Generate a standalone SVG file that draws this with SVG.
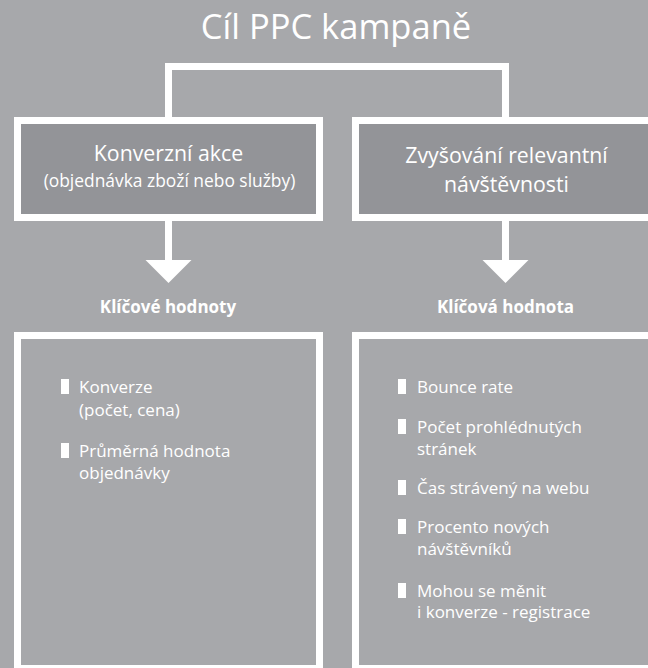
<svg xmlns="http://www.w3.org/2000/svg" width="648" height="668" viewBox="0 0 648 668">
<style>
text{font-family:"Open Sans","Noto Sans","Liberation Sans",sans-serif;fill:#ffffff}
.hdr{fill:#939498;stroke:#ffffff;stroke-width:7}
.body{fill:#a7a8ab;stroke:#ffffff;stroke-width:7}
.conn{fill:none;stroke:#ffffff;stroke-width:7}
.bul{fill:#ffffff}
.h1{font-size:21.3px}
.h2{font-size:17.4px}
.lbl{font-size:17px;font-weight:bold}
.it{font-size:17px}
</style>
<rect x="0" y="0" width="648" height="668" fill="#a7a8ab"/>
<g id="title"><text x="336" y="39" text-anchor="middle" font-size="34.5">Cíl PPC kampaně</text></g>
<g id="connectors">
<path class="conn" d="M168.5 118 V66.5 H505.5 V118"/>
<path class="conn" d="M168.5 220 V262"/>
<polygon fill="#ffffff" points="145.5,260 191.5,260 168.5,283"/>
<path class="conn" d="M505.5 220 V262"/>
<polygon fill="#ffffff" points="482.5,260 528.5,260 505.5,283"/>
</g>
<g id="node-konverzni">
<rect class="hdr" x="17.5" y="120.5" width="302" height="97"/>
<text class="h1" x="168.5" y="161" text-anchor="middle">Konverzní akce</text>
<text class="h2" x="169.5" y="187" text-anchor="middle">(objednávka zboží nebo služby)</text>
</g>
<g id="node-zvysovani">
<rect class="hdr" x="355.5" y="120.5" width="320" height="97"/>
<text class="h1" x="506.5" y="163" text-anchor="middle">Zvyšování relevantní</text>
<text class="h1" x="506.5" y="192" text-anchor="middle">návštěvnosti</text>
</g>
<g id="label-left"><text class="lbl" x="168" y="313" text-anchor="middle">Klíčové hodnoty</text></g>
<g id="label-right"><text class="lbl" x="505.5" y="313" text-anchor="middle">Klíčová hodnota</text></g>
<g id="node-hodnoty-left">
<rect class="body" x="17.5" y="335.5" width="302" height="333"/>
<rect class="bul" x="61" y="379" width="8" height="15"/>
<text class="it" x="79" y="393">Konverze</text>
<text class="it" x="79" y="416">(počet, cena)</text>
<rect class="bul" x="61" y="443" width="8" height="15"/>
<text class="it" x="79" y="457">Průměrná hodnota</text>
<text class="it" x="79" y="479">objednávky</text>
</g>
<g id="node-hodnoty-right">
<rect class="body" x="355.5" y="335.5" width="320" height="333"/>
<rect class="bul" x="398" y="379" width="8" height="15"/>
<text class="it" x="417" y="393">Bounce rate</text>
<rect class="bul" x="398" y="419" width="8" height="15"/>
<text class="it" x="417" y="433">Počet prohlédnutých</text>
<text class="it" x="417" y="455">stránek</text>
<rect class="bul" x="398" y="480" width="8" height="15"/>
<text class="it" x="417" y="494">Čas strávený na webu</text>
<rect class="bul" x="398" y="519" width="8" height="15"/>
<text class="it" x="417" y="533">Procento nových</text>
<text class="it" x="417" y="555">návštěvníků</text>
<rect class="bul" x="398" y="583" width="8" height="15"/>
<text class="it" x="417" y="597">Mohou se měnit</text>
<text class="it" x="417" y="618">i konverze - registrace</text>
</g>
</svg>
